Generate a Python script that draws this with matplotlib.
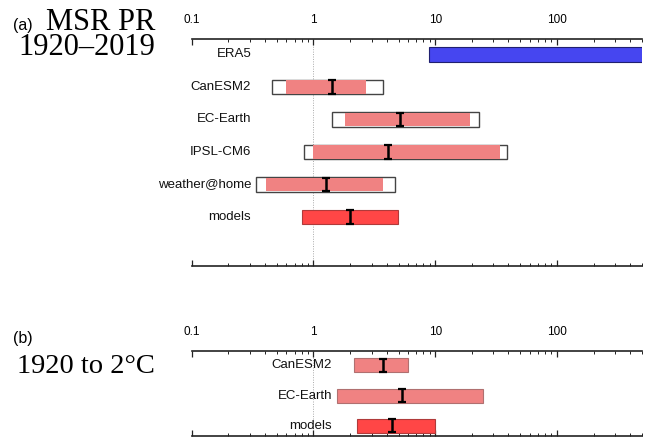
import numpy as np
import matplotlib
matplotlib.use("Agg")
import matplotlib.pyplot as plt
from matplotlib.ticker import FixedLocator, FixedFormatter, LogLocator, NullFormatter

# probability ratio, panel (a): MSR PR 1920-2019
a_names = ["ERA5", "CanESM2", "EC-Earth", "IPSL-CM6", "weather@home", "models"]
a_kind = ["obs", "model", "model", "model", "model", "synth"]
a_lo = [8.9, 0.59, 1.80, 1.0, 0.41, 0.80]
a_hi = [np.inf, 2.71, 19.4, 34.2, 3.72, 4.93]
a_box_lo = [np.nan, 0.455, 1.43, 0.84, 0.336, np.nan]
a_box_hi = [np.nan, 3.76, 23.1, 38.8, 4.66, np.nan]
a_best = [np.nan, 1.42, 5.12, 4.08, 1.28, 2.0]

# panel (b): 1920 to 2 deg C
b_names = ["CanESM2", "EC-Earth", "models"]
b_kind = ["model", "model", "synth"]
b_lo = [2.16, 1.55, 2.26]
b_hi = [5.96, 24.8, 10.0]
b_best = [3.74, 5.32, 4.46]

tick_vals = [0.1, 1, 10, 100]
tick_labels = ["0.1", "1", "10", "100"]
xmin, xmax = 0.1, 500

face = {"obs": "#4646f0", "model": "#f08282", "synth": "#ff4646"}
edge = {"obs": "#202070", "model": "#b07070", "synth": "#b03a3a"}

SANS = "Liberation Sans"
SERIF = "Liberation Serif"


def style_axis(ax, ylim, pad):
    ax.set_xscale("log")
    ax.set_xlim(xmin, xmax)
    ax.set_ylim(*ylim)
    for s in ["left", "right"]:
        ax.spines[s].set_visible(False)
    for s in ["top", "bottom"]:
        ax.spines[s].set_linewidth(1.2)
        ax.spines[s].set_color("#222222")
    ax.xaxis.set_major_locator(FixedLocator(tick_vals))
    ax.xaxis.set_major_formatter(FixedFormatter(tick_labels))
    ax.xaxis.set_minor_locator(LogLocator(base=10, subs=np.arange(2, 10)))
    ax.xaxis.set_minor_formatter(NullFormatter())
    ax.tick_params(axis="x", which="both", top=True, bottom=True,
                   labeltop=True, labelbottom=False, direction="in",
                   color="#222222", pad=pad)
    ax.tick_params(axis="x", which="major", length=4, width=0.9,
                   labelsize=8.5)
    ax.tick_params(axis="x", which="minor", length=2.3, width=0.7)
    for t in ax.get_xticklabels():
        t.set_fontfamily(SANS)
    ax.set_yticks([])
    ax.axvline(1, color="#aaaaaa", lw=0.7, ls=(0, (1, 1.5)), zorder=0)


def draw_rows(ax, names, kind, lo, hi, best, h, box_lo=None, box_hi=None):
    lo = np.array(lo, dtype=float)
    hi = np.minimum(np.array(hi, dtype=float), xmax * 1.5)
    y = np.arange(1, len(names) + 1)
    if box_lo is not None:
        blo = np.array(box_lo, dtype=float)
        bhi = np.array(box_hi, dtype=float)
        ok = ~np.isnan(blo)
        ax.barh(y[ok], bhi[ok] - blo[ok], left=blo[ok], height=h,
                color="white", edgecolor="#444444", lw=1.0, zorder=2)
    for i in range(len(names)):
        has_box = box_lo is not None and not np.isnan(box_lo[i])
        ax.barh(y[i], hi[i] - lo[i], left=lo[i], height=h - (0.03 if has_box else 0),
                color=face[kind[i]],
                edgecolor="none" if has_box else edge[kind[i]],
                lw=0.8, zorder=3)
    b = np.array(best, dtype=float)
    ok = ~np.isnan(b)
    ax.errorbar(b[ok], y[ok], yerr=h / 2 * 0.95, fmt="none", ecolor="black",
                elinewidth=1.8, capsize=2.6, capthick=1.6, zorder=4)
    all_lo = lo if box_lo is None else np.concatenate([lo, np.array(box_lo, dtype=float)])
    xlab = np.nanmin(all_lo) / 1.09
    for yy, n in zip(y, names):
        ax.text(xlab, yy, n, ha="right", va="center", fontsize=9.5,
                family=SANS, color="#111111")


fig = plt.figure(figsize=(6.46, 4.41), dpi=100)
W, H = 646, 441

ax_a = fig.add_axes([191.7 / W, 1 - 265.7 / H, (642 - 191.7) / W, (265.7 - 39.5) / H])
style_axis(ax_a, (7.5, 0.54), 9.5)
draw_rows(ax_a, a_names, a_kind, a_lo, a_hi, a_best, 0.45, a_box_lo, a_box_hi)

ax_b = fig.add_axes([191.7 / W, 1 - 436 / H, (642 - 191.7) / W, (436 - 350.7) / H])
style_axis(ax_b, (3.335, 0.52), 9.5)
draw_rows(ax_b, b_names, b_kind, b_lo, b_hi, b_best, 0.46)

fig.text(13 / W, 1 - 30 / H, "(a)", family=SANS, fontsize=11.5, va="baseline")
fig.text(155 / W, 1 - 55 / H, "MSR PR\n1920\u20132019", family=SERIF, fontsize=22,
         ha="right", va="baseline", multialignment="right", linespacing=0.8)
fig.text(13 / W, 1 - 342.7 / H, "(b)", family=SANS, fontsize=11.5, va="baseline")
fig.text(155 / W, 1 - 372.7 / H, "1920 to 2\u00b0C", family=SERIF, fontsize=20.5,
         ha="right", va="baseline")

fig.savefig("out.png", dpi=100)
